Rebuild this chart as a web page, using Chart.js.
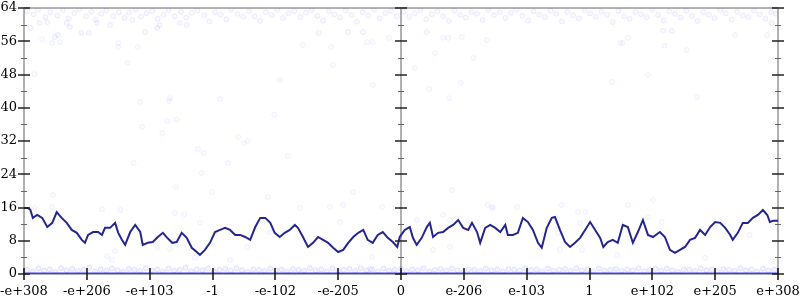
<!DOCTYPE html>
<html>
<head>
<meta charset="utf-8">
<script src="https://cdn.jsdelivr.net/npm/chart.js@4"></script>
<style>
  html, body { margin: 0; padding: 0; background: #fff; }
  canvas { display: block; }
</style>
</head>
<body>
<canvas id="grafico" width="800" height="300"></canvas>
<script>
// ---- ejes ----
const xTicks = [-6, -5, -4, -3, -2, -1, 0, 1, 2, 3, 4, 5, 6];
const xLabels = ["-e+308", "-e+206", "-e+103", "-1", "-e-102", "-e-205", "0",
                 "e-206", "e-103", "1", "e+102", "e+205", "e+308"];
const yTicks = [0, 8, 16, 24, 32, 40, 48, 56, 64];
const yMinorTicks = [4, 12, 20, 28, 36, 44, 52, 60];

// ---- linea (media movil) ----
const lineX = [-6.00, -5.94, -5.90, -5.86, -5.79, -5.71, -5.63, -5.55, -5.48, -5.40, -5.32, -5.24, -5.16, -5.08, -5.03,
  -4.98, -4.90, -4.82, -4.76, -4.71, -4.63, -4.55, -4.50, -4.44, -4.39, -4.31, -4.23, -4.15, -4.11, -4.03,
  -3.95, -3.87, -3.79, -3.72, -3.64, -3.57, -3.49, -3.41, -3.33, -3.25, -3.20, -3.12, -3.04,
  -2.96, -2.88, -2.80, -2.72, -2.64, -2.56, -2.48, -2.40, -2.32, -2.24, -2.16, -2.08, -2.01,
  -1.93, -1.85, -1.77, -1.69, -1.64, -1.56, -1.48, -1.40, -1.32, -1.24, -1.16, -1.08, -1.00,
  -0.92, -0.84, -0.76, -0.68, -0.60, -0.53, -0.45, -0.37, -0.29, -0.21, -0.13, -0.06, -0.02,
  0.06, 0.14, 0.19, 0.25, 0.33, 0.41, 0.46, 0.51, 0.59, 0.67, 0.75, 0.83, 0.91, 0.99,
  1.07, 1.13, 1.21, 1.26, 1.34, 1.42, 1.50, 1.58, 1.66, 1.70, 1.78, 1.86, 1.94,
  2.02, 2.10, 2.18, 2.24, 2.32, 2.40, 2.45, 2.53, 2.61, 2.69, 2.77, 2.85, 2.93,
  3.01, 3.09, 3.17, 3.22, 3.29, 3.37, 3.45, 3.53, 3.61, 3.69, 3.77, 3.85, 3.93,
  4.01, 4.12, 4.20, 4.28, 4.36, 4.44, 4.52, 4.60, 4.68, 4.76, 4.84, 4.92,
  5.00, 5.08, 5.16, 5.24, 5.28, 5.36, 5.44, 5.52, 5.60, 5.68, 5.76, 5.83, 5.87, 5.92, 6.00];
const lineY = [15.9, 15.9, 15.5, 13.5, 14.2, 13.5, 11.3, 12.3, 14.9, 13.5, 12.3, 10.6, 9.9, 8.2, 7.5,
  9.4, 10.1, 10.1, 9.4, 11.1, 11.1, 12.3, 9.9, 8.2, 7.0, 10.1, 11.8, 10.1, 7.0, 7.5,
  7.7, 8.9, 9.9, 8.7, 7.5, 7.7, 9.9, 8.7, 6.3, 5.3, 4.6, 5.8, 7.5,
  10.1, 10.6, 11.1, 10.6, 9.4, 9.4, 8.9, 8.2, 11.3, 13.5, 13.5, 12.3, 9.9,
  8.9, 9.9, 10.6, 11.8, 11.1, 8.9, 6.5, 7.5, 8.9, 8.2, 7.5, 6.3, 5.3,
  5.8, 7.5, 8.9, 9.9, 10.6, 8.2, 7.5, 9.4, 10.1, 8.7, 7.7, 6.5, 8.9,
  10.6, 11.3, 8.7, 7.0, 8.7, 11.3, 12.3, 8.9, 9.9, 10.1, 11.1, 11.8, 13.0, 11.1,
  10.6, 12.3, 10.1, 7.5, 11.1, 11.8, 11.1, 10.1, 11.8, 9.4, 9.4, 9.9, 13.5,
  12.5, 10.6, 7.5, 6.3, 11.1, 13.5, 13.7, 10.6, 7.7, 6.5, 7.5, 8.7, 10.6,
  12.5, 10.6, 8.7, 6.5, 7.7, 8.2, 7.5, 11.8, 11.3, 7.5, 10.1, 13.0, 9.4,
  8.9, 10.1, 8.9, 5.8, 5.1, 5.8, 6.5, 8.2, 8.7, 10.6, 9.4, 11.3,
  12.5, 12.3, 11.1, 9.4, 8.2, 9.9, 12.3, 12.3, 13.5, 14.2, 15.4, 14.2, 12.5, 12.8, 12.8];

// ---- nube de puntos: banda superior ----
const topX = [-5.95, -5.85, -5.78, -5.66, -5.58, -5.47, -5.38, -5.29, -5.20, -5.12, -5.01, -4.93, -4.86, -4.77, -4.69,
  -4.58, -4.49, -4.40, -4.33, -4.22, -4.14, -4.05, -3.96, -3.87, -3.78, -3.70, -3.60, -3.50, -3.42, -3.33,
  -3.24, -3.13, -3.05, -2.96, -2.87, -2.78, -2.70, -2.60, -2.51, -2.42, -2.33, -2.24, -2.15, -2.06, -1.97,
  -1.88, -1.79, -1.70, -1.60, -1.51, -1.42, -1.33, -1.24, -1.15, -1.06, -0.97, -0.88, -0.79, -0.70, -0.61,
  -0.52, -0.43, -0.34, -0.25, -0.16, -0.07, 0.04, 0.13, 0.22, 0.31, 0.40, 0.49, 0.58, 0.67, 0.76,
  0.85, 0.94, 1.03, 1.12, 1.21, 1.30, 1.39, 1.48, 1.57, 1.66, 1.75, 1.84, 1.93, 2.02, 2.11,
  2.20, 2.29, 2.38, 2.47, 2.56, 2.65, 2.74, 2.83, 2.92, 3.01, 3.10, 3.19, 3.28, 3.37, 3.46,
  3.55, 3.64, 3.73, 3.82, 3.91, 4.00, 4.09, 4.18, 4.27, 4.36, 4.45, 4.54, 4.63, 4.72, 4.81,
  4.90, 4.99, 5.08, 5.17, 5.26, 5.35, 5.44, 5.53, 5.62, 5.71, 5.80, 5.89, 5.97,
  -5.90, -5.75, -5.63, -5.32, -5.27, -4.84, -4.63, -4.27, -3.88, -3.84, -3.52, -3.41,
  -1.31, -0.84, -0.60, 0.41, 4.17, 4.31, 5.90, -5.09, -4.97, -4.07, -5.46, -5.51];
const topY = [63.2, 62.5, 63.6, 61.8, 63.0, 62.2, 63.5, 61.5, 62.8, 63.7, 62.0, 63.1, 61.2, 62.6, 63.4,
  62.1, 63.0, 61.6, 62.9, 63.6, 61.9, 62.7, 63.3, 61.4, 62.4, 63.5, 62.0, 63.1, 61.7, 62.8,
  63.4, 62.2, 60.8, 63.0, 62.4, 61.3, 63.6, 62.6, 61.9, 63.2, 62.0, 60.9, 63.0, 62.3, 63.6,
  61.6, 62.7, 63.3, 61.8, 62.9, 63.5, 62.1, 61.0, 63.2, 62.5, 61.7, 63.4, 62.3, 60.7, 63.0,
  62.2, 63.6, 61.5, 62.8, 63.3, 62.0, 63.1, 61.9, 62.7, 63.5, 61.3, 62.5, 63.2, 62.0, 60.9,
  63.4, 62.4, 61.7, 63.0, 62.6, 61.1, 63.5, 62.3, 63.0, 61.6, 62.8, 63.6, 62.1, 61.0, 63.2,
  62.4, 61.8, 63.4, 62.6, 60.8, 63.0, 62.2, 61.5, 63.5, 62.7, 61.9, 63.1, 62.4, 60.6, 63.3,
  62.0, 61.4, 63.0, 62.5, 61.8, 63.6, 62.3, 61.0, 63.2, 62.6, 61.7, 63.4, 62.1, 60.9, 63.0,
  62.4, 61.6, 63.5, 62.7, 61.2, 63.1, 62.2, 61.8, 63.4, 62.5, 61.4, 63.0, 62.6,
  59.2, 60.4, 60.6, 60.4, 59.4, 60.4, 59.9, 61.1, 59.2, 59.9, 60.4, 59.9,
  58.0, 58.2, 58.2, 58.2, 58.5, 58.5, 60.4, 58.0, 58.0, 58.2, 57.5, 57.0];

// ---- nube de puntos: banda inferior ----
const lowX = [-5.95, -5.86, -5.77, -5.68, -5.59, -5.50, -5.41, -5.32, -5.23, -5.14, -5.05, -4.96, -4.87, -4.78, -4.69,
  -4.60, -4.51, -4.42, -4.33, -4.24, -4.15, -4.06, -3.97, -3.88, -3.79, -3.70, -3.61, -3.52, -3.43, -3.34,
  -3.25, -3.16, -3.07, -2.98, -2.89, -2.80, -2.71, -2.62, -2.53, -2.44, -2.35, -2.26, -2.17, -2.08, -1.99,
  -1.90, -1.81, -1.72, -1.63, -1.54, -1.45, -1.36, -1.27, -1.18, -1.09, -1.00, -0.91, -0.82, -0.73, -0.64,
  -0.55, -0.46, -0.37, -0.28, -0.19, -0.10, 0.00, 0.09, 0.18, 0.27, 0.36, 0.45, 0.54, 0.63, 0.72,
  0.81, 0.90, 0.99, 1.08, 1.17, 1.26, 1.35, 1.44, 1.53, 1.62, 1.71, 1.80, 1.89, 1.98, 2.07,
  2.16, 2.25, 2.34, 2.43, 2.52, 2.61, 2.70, 2.79, 2.88, 2.97, 3.06, 3.15, 3.24, 3.33, 3.42,
  3.51, 3.60, 3.69, 3.78, 3.87, 3.96, 4.05, 4.14, 4.23, 4.32, 4.41, 4.50, 4.59, 4.68, 4.77,
  4.86, 4.95, 5.04, 5.13, 5.22, 5.31, 5.40, 5.49, 5.58, 5.67, 5.76, 5.85, 5.94];
const lowY = [1.0, 0.6, 1.3, 0.8, 1.1, 0.5, 1.4, 0.9, 1.2, 0.7, 1.0, 1.5, 0.6, 1.1, 0.8,
  1.3, 0.9, 0.5, 1.2, 1.0, 0.7, 1.4, 0.9, 1.1, 0.6, 1.3, 0.8, 1.0, 1.5, 0.7,
  1.1, 0.9, 1.3, 0.6, 1.0, 1.2, 0.8, 1.4, 0.9, 0.5, 1.1, 1.0, 0.7, 1.3, 0.9,
  1.1, 0.6, 1.2, 1.0, 0.8, 1.4, 0.9, 1.1, 0.6, 1.3, 0.8, 1.0, 1.2, 0.7, 1.4,
  0.9, 1.1, 0.6, 1.3, 0.8, 1.0, 1.2, 0.7, 1.1, 0.9, 1.4, 0.6, 1.0, 1.2, 0.8,
  1.3, 0.9, 0.5, 1.1, 1.0, 0.7, 1.3, 0.9, 1.1, 0.6, 1.2, 1.0, 0.8, 1.4, 0.9,
  1.1, 0.6, 1.3, 0.8, 1.0, 1.2, 0.7, 1.4, 0.9, 1.1, 0.6, 1.3, 0.8, 1.0, 1.2,
  0.7, 1.1, 0.9, 1.4, 0.6, 1.0, 1.2, 0.8, 1.3, 0.9, 0.5, 1.1, 1.0, 0.7, 1.3,
  0.9, 1.1, 0.6, 1.2, 1.0, 0.8, 1.4, 0.9, 1.1, 0.6, 1.3, 0.8, 1.0];

// ---- nube de puntos: zona media (dispersa) ----
const midX = [-4.15, -3.69, -2.88, -2.02, -4.12, -3.72, -3.57, -3.80, -2.59, -2.50, -2.44, -3.23, -3.14, -2.75, -4.25,
  -3.17, -1.80, -1.93, -5.54, -4.76, -3.58, -3.60, -4.55, -4.68, -3.88, -4.60, -3.28, -0.76, -0.97, 1.45,
  0.51, -0.49, -0.46, 3.61, 4.01, 3.93, 4.15, 4.84, 5.90, 5.55, 3.44, -5.55, -5.83, -4.47, -3.45,
  -3.20, -3.68, -3.01, -2.12, -1.61, -1.13, -0.92, -0.30, -2.08, -2.45, -2.72, 0.81, 1.38, 1.46, 1.85,
  2.56, 2.82, 2.93, 0.25, 0.67, 0.78, 2.85, 2.50, 0.78, 2.53, 2.88, -1.56, -1.11, -0.54, -0.45,
  -0.19, -1.08, 0.22, 0.54, 1.15, 0.95, -0.45, 0.45, 0.76, 0.67, 0.75, 0.97, 1.37, 3.36, 3.93,
  4.19, 4.55, 4.71, 3.49, 3.53, 3.61, 5.32, 5.83, -5.83, -5.71, -5.55, -5.43, -4.50, -4.50, -4.35,
  -4.19, -3.68];
const midY = [41.4, 41.6, 42.1, 38.3, 35.4, 36.8, 37.1, 33.9, 33.0, 31.5, 32.0, 30.1, 29.1, 26.7, 26.7,
  24.3, 28.4, 46.7, 19.0, 15.6, 20.9, 14.7, 5.5, 4.3, 6.3, 3.4, 3.9, 19.7, 12.5, 16.1,
  5.8, 1.2, 4.1, 16.6, 17.8, 13.7, 12.5, 3.9, 2.9, 9.4, 4.6, 16.1, 15.9, 15.4, 14.4,
  12.3, 6.0, 19.7, 18.5, 15.9, 16.1, 16.6, 16.1, 10.1, 6.5, 3.4, 20.2, 16.6, 15.9, 16.1,
  16.6, 14.9, 14.9, 13.0, 14.2, 13.0, 12.3, 9.9, 6.5, 5.8, 5.8, 55.1, 54.6, 55.8, 55.8,
  56.8, 50.3, 49.6, 53.2, 52.0, 46.0, 45.5, 44.5, 42.3, 56.8, 56.8, 57.0, 56.3, 46.2, 47.9,
  54.9, 53.9, 42.6, 55.6, 55.6, 56.8, 57.5, 57.5, 48.1, 56.5, 55.6, 55.8, 55.6, 54.6, 50.8,
  54.6, 42.3];

// ---- banda de ceros (muy densa) ----
const zeroX = [-6, 6];
const zeroY = [0, 0];

function pares(xs, ys) {
  return xs.map((x, i) => ({ x: x, y: ys[i] }));
}

const COLOR_LINEA = "#25258f";
const FUENTE = "13px 'DejaVu Serif', 'Liberation Serif', serif";

const nube = (data, alfa) => ({
  type: "scatter",
  data: data,
  pointRadius: 2.5,
  pointBackgroundColor: `rgba(100, 100, 255, ${alfa * 0.5})`,
  pointBorderColor: `rgba(80, 80, 255, ${alfa})`,
  pointBorderWidth: 1,
  showLine: false
});

// Ejes dibujados a mano sobre las escalas de Chart.js
const ejesPlugin = {
  id: "ejes",
  beforeDatasetsDraw(chart) {
    const { ctx, scales: { x, y } } = chart;
    const yTop = y.getPixelForValue(64);
    const yBot = y.getPixelForValue(0);
    ctx.save();
    ctx.strokeStyle = "#b0b0b0";
    ctx.lineWidth = 2;
    [-6, 0, 6].forEach(v => {
      const px = Math.round(x.getPixelForValue(v));
      ctx.beginPath();
      ctx.moveTo(px, yTop);
      ctx.lineTo(px, yBot);
      ctx.stroke();
    });
    [yTop, yBot].forEach(py => {
      ctx.beginPath();
      ctx.moveTo(x.getPixelForValue(-6), Math.round(py));
      ctx.lineTo(x.getPixelForValue(6), Math.round(py));
      ctx.stroke();
    });
    ctx.restore();
  },
  afterDatasetsDraw(chart) {
    const { ctx, scales: { x, y } } = chart;
    const yBot = Math.round(y.getPixelForValue(0));
    ctx.save();

    // ticks del eje Y en los tres ejes verticales
    [-6, 0, 6].forEach(v => {
      const px = Math.round(x.getPixelForValue(v));
      ctx.strokeStyle = "#222";
      ctx.lineWidth = 1.5;
      yTicks.forEach(t => {
        const py = Math.round(y.getPixelForValue(t));
        ctx.beginPath();
        ctx.moveTo(px - 6, py);
        ctx.lineTo(px + 6, py);
        ctx.stroke();
      });
      ctx.strokeStyle = "#666";
      ctx.lineWidth = 1;
      yMinorTicks.forEach(t => {
        const py = Math.round(y.getPixelForValue(t)) + 0.5;
        ctx.beginPath();
        ctx.moveTo(px - 3, py);
        ctx.lineTo(px + 3, py);
        ctx.stroke();
      });
    });

    // ticks del eje X
    ctx.strokeStyle = "#111";
    ctx.lineWidth = 1.5;
    xTicks.forEach(t => {
      const px = Math.round(x.getPixelForValue(t));
      ctx.beginPath();
      ctx.moveTo(px, yBot - 6);
      ctx.lineTo(px, yBot + 6);
      ctx.stroke();
    });

    // etiquetas
    ctx.fillStyle = "#000";
    ctx.font = FUENTE;
    ctx.textAlign = "right";
    ctx.textBaseline = "middle";
    yTicks.forEach(t => {
      ctx.fillText(String(t), x.getPixelForValue(-6) - 7, y.getPixelForValue(t));
    });
    ctx.textAlign = "center";
    ctx.textBaseline = "top";
    xTicks.forEach((t, i) => {
      ctx.fillText(xLabels[i], x.getPixelForValue(t), yBot + 11);
    });
    ctx.restore();
  }
};

new Chart(document.getElementById("grafico"), {
  data: {
    datasets: [
      {
        type: "line",
        data: pares(lineX, lineY),
        borderColor: COLOR_LINEA,
        borderWidth: 2,
        pointRadius: 0,
        tension: 0
      },
      {
        type: "line",
        data: pares(zeroX, zeroY),
        borderColor: "rgba(50, 50, 235, 0.9)",
        borderWidth: 3,
        pointRadius: 0
      },
      nube(pares(lowX, lowY), 0.14),
      nube(pares(midX, midY), 0.07),
      nube(pares(topX, topY), 0.09)
    ]
  },
  options: {
    responsive: false,
    animation: false,
    devicePixelRatio: 1,
    layout: { padding: { left: 24, right: 22, top: 8, bottom: 26 } },
    plugins: { legend: { display: false }, tooltip: { enabled: false } },
    scales: {
      x: { type: "linear", min: -6, max: 6, display: false },
      y: { type: "linear", min: 0, max: 64, display: false }
    }
  },
  plugins: [ejesPlugin]
});
</script>
</body>
</html>
